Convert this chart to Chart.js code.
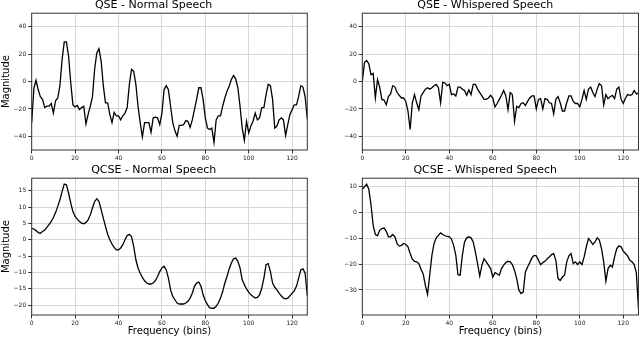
<!DOCTYPE html>
<html><head><meta charset="utf-8">
<script src="https://cdn.jsdelivr.net/npm/chart.js@4.4.0/dist/chart.umd.min.js"></script>
<style>
html,body{margin:0;padding:0;background:#fff;width:640px;height:339px;overflow:hidden;position:relative;}
canvas{position:absolute;}
</style></head><body>
<canvas id="c1" width="310" height="165" style="left:0px;top:-1px"></canvas>
<canvas id="c2" width="308" height="165" style="left:332px;top:-1px"></canvas>
<canvas id="c3" width="310" height="175" style="left:0px;top:164px"></canvas>
<canvas id="c4" width="308" height="175" style="left:332px;top:164px"></canvas>
<script>
const bins = [0,1,2,3,4,5,6,7,8,9,10,11,12,13,14,15,16,17,18,19,20,21,22,23,24,25,26,27,28,29,30,31,32,33,34,35,36,37,38,39,40,41,42,43,44,45,46,47,48,49,50,51,52,53,54,55,56,57,58,59,60,61,62,63,64,65,66,67,68,69,70,71,72,73,74,75,76,77,78,79,80,81,82,83,84,85,86,87,88,89,90,91,92,93,94,95,96,97,98,99,100,101,102,103,104,105,106,107,108,109,110,111,112,113,114,115,116,117,118,119,120,121,122,123,124,125,126,127];

const qseNormal = [-30,-5,1,-6,-11,-13,-19,-18,-18,-16,
  -23,-14,-12,-3,16,29,29,18.5,-1,-17,
  -18.5,-17.5,-20.5,-19,-18,-31,-24,-18,-11,9,
  21,24,15,-3,-15.5,-15.5,-24,-30,-22.5,-25,
  -25,-28,-25,-23,-19,-2,9,7.5,-2,-18,
  -30,-40.5,-30,-30,-30,-37,-26.5,-26,-26.5,-31.5,
  -23,-6,-3,-6,-18,-30,-36,-40,-32,-32,
  -31.5,-28.5,-29,-33.5,-28,-20.5,-13,-4.5,-4.5,-13,
  -26.5,-34,-35,-34,-44.5,-28,-25,-25,-18,-12,
  -7,-3.5,1.5,4.5,2,-4.5,-18,-34,-43,-29,
  -37.5,-32.5,-29,-23,-28,-26.5,-19,-19,-9.5,-2,
  -3,-13,-34,-32.5,-28,-26.5,-28,-39.5,-31.5,-24,
  -20.5,-17,-17,-11,-3,-4,-11,-27.5];

const qseWhisper = [0,14,15.5,13,5,6,-12,1.5,-4,-13,
  -13.5,-17,-11,-9,-3,-4,-8,-10,-12,-12,
  -14.5,-21.5,-35,-15.5,-9.5,-15.5,-20.5,-10.5,-8,-5.5,
  -4.5,-5.5,-4.5,-3,-2,-4.5,-15.5,-0.5,-1,-3,
  -2,-9.5,-9,-10.5,-4,-4,-5.5,-6.5,-10,-6,
  -9.5,-2,-2,-5.5,-8,-10.5,-13,-13,-12,-10,
  -12,-18.5,-16,-13,-10,-6.5,-10.5,-20.5,-8,-9.5,
  -29,-18,-19,-16,-15.5,-17.5,-14.5,-12,-10.5,-10.5,
  -20,-13,-12.5,-20,-12.5,-13,-15.5,-16,-23.5,-13,
  -11,-15.5,-21.5,-21.5,-15.5,-10.5,-10.5,-14.5,-16,-16,
  -18.5,-13,-6.5,-13,-5.5,-4,-8,-11,-5.5,-1.5,
  -3,-17,-9.5,-12.5,-11,-10,-12.5,-5.5,-4,-13,
  -16,-12,-9.5,-10,-9.5,-6.5,-9,-8.5];

const qcseNormal = [3.5,3.3,2.8,2.2,2,2.5,3,3.8,4.6,5.6,
  6.8,8.3,10.2,12.2,14.7,17,16.8,14.2,11.2,8.6,
  7.1,6.3,5.6,5.1,4.9,5.3,6.1,7.6,9.7,11.7,
  12.5,11.7,9.2,6.6,4.1,1.7,0,-1.3,-2.3,-3.1,
  -3.1,-2.5,-1.5,0,1.3,1.7,1,-2,-6.1,-8.6,
  -10.2,-11.5,-12.5,-13.2,-13.5,-13.5,-13.2,-12.5,-11.2,-9.7,
  -8.6,-8.1,-9.2,-11.7,-15.3,-17.3,-18.3,-19.3,-19.6,-19.6,
  -19.6,-19.3,-18.8,-17.8,-16.3,-14.2,-13.2,-12.9,-14.2,-16.8,
  -18.6,-19.8,-20.7,-20.9,-20.9,-20.3,-19.3,-17.8,-15.8,-13.2,
  -11.2,-8.9,-7.1,-5.8,-5.6,-6.6,-8.6,-12.2,-13.7,-15,
  -16,-16.8,-17.3,-17.8,-17.6,-16.8,-14.8,-11.7,-7.6,-7.3,
  -9.7,-13.2,-14.5,-15.3,-16.3,-17.1,-17.8,-18,-17.8,-17.1,
  -16.3,-15.6,-14.2,-11.7,-9.2,-8.9,-10.2,-17.1];

const qcseWhisper = [9,10,11,9,3,-5,-8.5,-9,-6.9,-6.2,
  -6,-7.2,-9.4,-9.4,-8.5,-9.4,-12.1,-13,-12.7,-12,
  -12.4,-13.3,-15.9,-18.1,-18.9,-19.1,-19.8,-22,-23.8,-28.2,
  -31.7,-24.3,-16.6,-12,-9.8,-8.8,-7.9,-8.5,-9,-9.2,
  -9.4,-10.3,-12.7,-16.6,-24.1,-24.3,-16.6,-11.4,-9.8,-9.4,
  -9.8,-11.4,-15.3,-19.8,-24.6,-20.4,-17.9,-19.1,-20.4,-21.7,
  -25,-23.3,-23.7,-24.3,-21.7,-20.4,-19.4,-18.9,-19.1,-20.2,
  -22.4,-25.6,-30.1,-31.4,-30.8,-23,-21.1,-19.4,-17.6,-16.6,
  -16.8,-18.5,-20.2,-19.4,-18.9,-17.9,-17.2,-16.3,-15.9,-18.5,
  -25.6,-26.3,-25,-24.3,-19.1,-16.8,-15.9,-19.8,-19.1,-20.2,
  -19.1,-20.2,-17.2,-13.3,-10.1,-11.1,-12.4,-11.4,-9.8,-10.7,
  -14,-19.1,-26.6,-21.7,-20.4,-21.1,-17.2,-14,-12.9,-13.3,
  -15,-15.9,-16.8,-18.5,-19.1,-20.2,-23.3,-37.3];

const xTicks = [0,20,40,60,80,100,120];
const qseYTicks = [-40,-20,0,20,40];
const qcseNormalYTicks = [-20,-15,-10,-5,0,5,10,15];
const qcseWhisperYTicks = [-30,-20,-10,0,10];

Chart.defaults.font.family = "'DejaVu Sans', sans-serif";
Chart.defaults.color = '#000';

const framePlugin = {
  id: 'frame',
  afterDraw(chart) {
    const {ctx, chartArea: a} = chart;
    ctx.save();
    ctx.strokeStyle = '#333';
    ctx.lineWidth = 1;
    ctx.strokeRect(a.left, a.top, a.right - a.left, a.bottom - a.top);
    ctx.restore();
  }
};

const fmt = v => (v < 0 ? '\u2212' + Math.abs(v) : String(v));

function makeChart(id, title, values, yMin, yMax, yTicks, yWidth, padRight, xHeight, yTitle, xTitle) {
  new Chart(document.getElementById(id), {
    type: 'line',
    data: {
      labels: bins,
      datasets: [{
        data: values,
        borderColor: '#000',
        borderWidth: 1.3,
        pointRadius: 0,
        tension: 0,
        fill: false
      }]
    },
    options: {
      responsive: false,
      animation: false,
      events: [],
      layout: {padding: {left: 0, right: padRight, top: 0, bottom: 0}},
      plugins: {
        legend: {display: false},
        tooltip: {enabled: false},
        title: {
          display: true,
          text: title,
          color: '#000',
          font: {size: 11, weight: 'normal', lineHeight: 1.2},
          padding: {top: 0, bottom: 1}
        }
      },
      scales: {
        x: {
          type: 'linear',
          min: 0, max: 127,
          afterBuildTicks: s => { s.ticks = xTicks.map(v => ({value: v})); },
          afterFit: s => { s.height = xHeight; },
          grid: {color: '#d6d6d6', lineWidth: 1, drawTicks: true, tickLength: 3.5, tickColor: '#333'},
          border: {display: false},
          ticks: {font: {size: 6}, color: '#222', padding: 1, maxRotation: 0, autoSkip: false, callback: fmt},
          title: {
            display: !!xTitle,
            text: xTitle || '',
            color: '#000',
            font: {size: 10, lineHeight: 1.2},
            padding: {top: 0, bottom: 1.5}
          }
        },
        y: {
          type: 'linear',
          min: yMin, max: yMax,
          afterBuildTicks: s => { s.ticks = yTicks.map(v => ({value: v})); },
          afterFit: s => { s.width = yWidth; },
          grid: {color: '#d6d6d6', lineWidth: 1, drawTicks: true, tickLength: 3.5, tickColor: '#333'},
          border: {display: false},
          ticks: {font: {size: 6}, color: '#222', padding: 2, autoSkip: false, callback: fmt},
          title: {
            display: !!yTitle,
            text: yTitle || '',
            color: '#000',
            font: {size: 10, lineHeight: 1.2},
            padding: {top: 0, bottom: 0}
          }
        }
      }
    },
    plugins: [framePlugin]
  });
}

makeChart('c1', 'QSE - Normal Speech', qseNormal, -50, 50, qseYTicks, 31.7, 2.7, 14, 'Magnitude', null);
makeChart('c2', 'QSE - Whispered Speech', qseWhisper, -50, 50, qseYTicks, 30.3, 1.5, 14, null, null);
makeChart('c3', 'QCSE - Normal Speech', qcseNormal, -22.96, 18.8, qcseNormalYTicks, 31.7, 2.7, 24, 'Magnitude', 'Frequency (bins)');
makeChart('c4', 'QCSE - Whispered Speech', qcseWhisper, -39.7, 13.3, qcseWhisperYTicks, 30.3, 1.5, 24, null, 'Frequency (bins)');
</script>
</body></html>
